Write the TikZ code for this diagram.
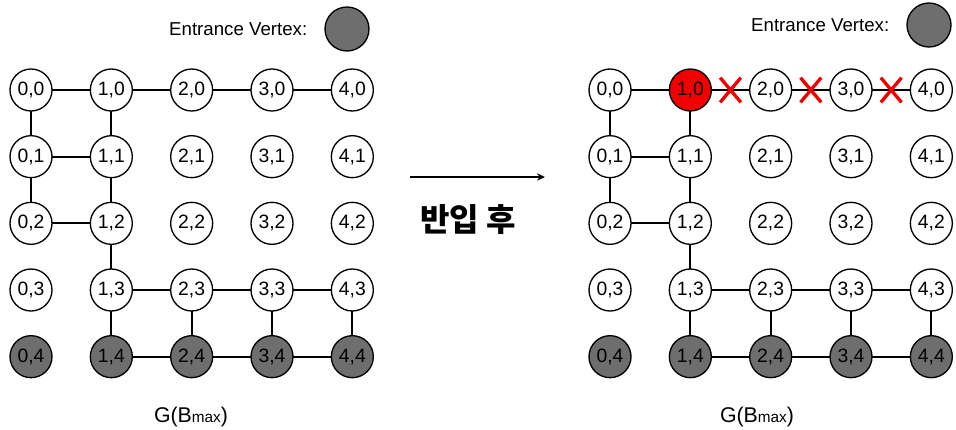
\documentclass[tikz,border=0pt]{standalone}
\usepackage{fontspec}
\setmainfont{Liberation Sans}
\newfontfamily\krfont{Noto Sans CJK KR}
\usepackage{tikz}
\usetikzlibrary{positioning}
\usetikzlibrary{shapes.misc,arrows.meta,calc}
\definecolor{entrygray}{HTML}{6E6E6E}
\definecolor{hitred}{HTML}{F20000}
\tikzset{
    %Define standard arrow tip
    >={Stealth[length=6pt,width=5.5pt]},
    % Define edge style
    link/.style={
           line width=1.4pt,},
    % Define blocked edge mark
    cut/.style={
           cross out,
           draw=hitred,
           line width=2.5pt,
           minimum width=15.5pt,
           minimum height=18.5pt,
           inner sep=0pt,}
}
\newcommand{\vtxsize}{31.5pt}
\newcommand{\colstep}{60.25pt}
\newcommand{\rowstep}{50pt}

\begin{document}
\begin{tikzpicture}[outer sep=0pt, node distance=\rowstep and \colstep]
\tikzstyle{vtx}=[on grid, draw, circle, line width=1pt, minimum size=\vtxsize, inner sep=0pt, fill=white, font={\fontsize{14.5}{17}\selectfont}]
\tikzstyle{entry}=[vtx, fill=entrygray]
\tikzstyle{hit}=[vtx, fill=hitred]

\useasboundingbox (0pt,0pt) rectangle (717pt,-321.75pt);

% left graph
\node[vtx] (l00) at (23.25pt,-67.5pt) {0,0};
\node[vtx] (l10) [right = of l00] {1,0};
\node[vtx] (l20) [right = of l10] {2,0};
\node[vtx] (l30) [right = of l20] {3,0};
\node[vtx] (l40) [right = of l30] {4,0};

\node[vtx] (l01) [below = of l00] {0,1};
\node[vtx] (l11) [right = of l01] {1,1};
\node[vtx] (l21) [right = of l11] {2,1};
\node[vtx] (l31) [right = of l21] {3,1};
\node[vtx] (l41) [right = of l31] {4,1};

\node[vtx] (l02) [below = of l01] {0,2};
\node[vtx] (l12) [right = of l02] {1,2};
\node[vtx] (l22) [right = of l12] {2,2};
\node[vtx] (l32) [right = of l22] {3,2};
\node[vtx] (l42) [right = of l32] {4,2};

\node[vtx] (l03) [below = of l02] {0,3};
\node[vtx] (l13) [right = of l03] {1,3};
\node[vtx] (l23) [right = of l13] {2,3};
\node[vtx] (l33) [right = of l23] {3,3};
\node[vtx] (l43) [right = of l33] {4,3};

\node[entry] (l04) [below = of l03] {0,4};
\node[entry] (l14) [right = of l04] {1,4};
\node[entry] (l24) [right = of l14] {2,4};
\node[entry] (l34) [right = of l24] {3,4};
\node[entry] (l44) [right = of l34] {4,4};

\path[link] (l00.east) edge (l10.west);
\path[link] (l10.east) edge (l20.west);
\path[link] (l20.east) edge (l30.west);
\path[link] (l30.east) edge (l40.west);
\path[link] (l01.east) edge (l11.west);
\path[link] (l02.east) edge (l12.west);
\path[link] (l13.east) edge (l23.west);
\path[link] (l23.east) edge (l33.west);
\path[link] (l33.east) edge (l43.west);
\path[link] (l14.east) edge (l24.west);
\path[link] (l24.east) edge (l34.west);
\path[link] (l34.east) edge (l44.west);
\path[link] (l00.south) edge (l01.north);
\path[link] (l01.south) edge (l02.north);
\path[link] (l10.south) edge (l11.north);
\path[link] (l11.south) edge (l12.north);
\path[link] (l12.south) edge (l13.north);
\path[link] (l13.south) edge (l14.north);
\path[link] (l23.south) edge (l24.north);
\path[link] (l33.south) edge (l34.north);
\path[link] (l43.south) edge (l44.north);

\node[entry, minimum size=33pt] (keyl) at (260.25pt,-21.75pt) {};
\node[font={\fontsize{14}{16}\selectfont}] (keyltxt) [left = 10pt of keyl] {Entrance Vertex:};
\node[font={\fontsize{16}{19}\selectfont}] (capl) at (143.25pt,-312.75pt) {G(B{\fontsize{11.5}{13}\selectfont max})};

% step between the graphs
\coordinate (arrs) at (307.5pt,-132.75pt);
\coordinate (arre) at (408.75pt,-132.75pt);
\draw[->, line width=1.3pt] (arrs) -- (arre);
\node[font={\krfont\bfseries\fontsize{24}{28}\selectfont}] (after) at (351pt,-165pt) {반입 후};

% right graph
\node[vtx] (r00) at (457.5pt,-67.5pt) {0,0};
\node[hit] (r10) [right = of r00] {1,0};
\node[vtx] (r20) [right = of r10] {2,0};
\node[vtx] (r30) [right = of r20] {3,0};
\node[vtx] (r40) [right = of r30] {4,0};

\node[vtx] (r01) [below = of r00] {0,1};
\node[vtx] (r11) [right = of r01] {1,1};
\node[vtx] (r21) [right = of r11] {2,1};
\node[vtx] (r31) [right = of r21] {3,1};
\node[vtx] (r41) [right = of r31] {4,1};

\node[vtx] (r02) [below = of r01] {0,2};
\node[vtx] (r12) [right = of r02] {1,2};
\node[vtx] (r22) [right = of r12] {2,2};
\node[vtx] (r32) [right = of r22] {3,2};
\node[vtx] (r42) [right = of r32] {4,2};

\node[vtx] (r03) [below = of r02] {0,3};
\node[vtx] (r13) [right = of r03] {1,3};
\node[vtx] (r23) [right = of r13] {2,3};
\node[vtx] (r33) [right = of r23] {3,3};
\node[vtx] (r43) [right = of r33] {4,3};

\node[entry] (r04) [below = of r03] {0,4};
\node[entry] (r14) [right = of r04] {1,4};
\node[entry] (r24) [right = of r14] {2,4};
\node[entry] (r34) [right = of r24] {3,4};
\node[entry] (r44) [right = of r34] {4,4};

\path[link] (r00.east) edge (r10.west);
\path[link] (r10.east) edge (r20.west);
\path[link] (r20.east) edge (r30.west);
\path[link] (r30.east) edge (r40.west);
\path[link] (r01.east) edge (r11.west);
\path[link] (r02.east) edge (r12.west);
\path[link] (r13.east) edge (r23.west);
\path[link] (r23.east) edge (r33.west);
\path[link] (r33.east) edge (r43.west);
\path[link] (r14.east) edge (r24.west);
\path[link] (r24.east) edge (r34.west);
\path[link] (r34.east) edge (r44.west);
\path[link] (r00.south) edge (r01.north);
\path[link] (r01.south) edge (r02.north);
\path[link] (r10.south) edge (r11.north);
\path[link] (r11.south) edge (r12.north);
\path[link] (r12.south) edge (r13.north);
\path[link] (r13.south) edge (r14.north);
\path[link] (r23.south) edge (r24.north);
\path[link] (r33.south) edge (r34.north);
\path[link] (r43.south) edge (r44.north);

\node[cut] (cut1) at ($(r10)!0.5!(r20)$) {};
\node[cut] (cut2) at ($(r20)!0.5!(r30)$) {};
\node[cut] (cut3) at ($(r30)!0.5!(r40)$) {};

\node[entry, minimum size=33pt] (keyr) at (696.75pt,-18.75pt) {};
\node[font={\fontsize{14}{16}\selectfont}] (keyrtxt) [left = 10pt of keyr] {Entrance Vertex:};
\node[font={\fontsize{16}{19}\selectfont}] (capr) at (567.75pt,-312.75pt) {G(B{\fontsize{11.5}{13}\selectfont max})};

\end{tikzpicture}
\end{document}
